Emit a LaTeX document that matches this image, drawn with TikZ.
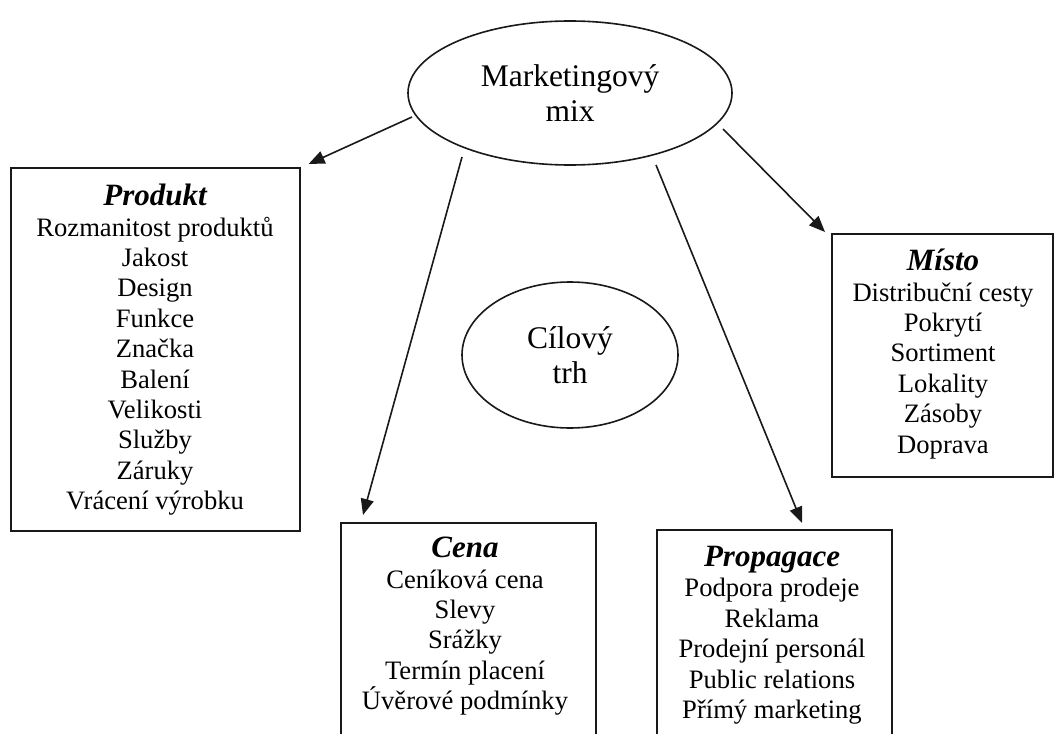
\documentclass[tikz,border=0pt]{standalone}
\usepackage{fontspec}
\setmainfont{Liberation Serif}
\usetikzlibrary{shapes.geometric,arrows.meta}
\newcommand{\boxhead}[1]{{\fontsize{31}{31}\selectfont\bfseries\itshape #1}}
\begin{document}
\begin{tikzpicture}[x=1pt,y=-1pt,
  frame/.style={draw=black!90, line width=1.6pt, inner sep=0pt, anchor=north west},
  listtext/.style={align=center, inner sep=0pt, anchor=north, font=\fontsize{26.6}{30.4}\selectfont},
  oval/.style={draw=black!90, line width=1.6pt, ellipse, inner sep=0pt, align=center, font=\fontsize{31.5}{35}\selectfont},
  arr/.style={line width=1.6pt, draw=black!90, -{Triangle[length=16pt,width=13pt]}}]
\clip (0,0) rectangle (1054,733);
\fill[white] (0,0) rectangle (1054,733);

% ellipses
\node[oval, minimum width=324pt, minimum height=144pt] (mm) at (570,93) {Marketingový\\mix};
\node[oval, minimum width=216pt, minimum height=146pt] (trh) at (570,355) {Cílový\\trh};

% frames
\node[frame, minimum width=289pt, minimum height=363pt] (produkt) at (10,167) {};
\node[frame, minimum width=255pt, minimum height=230pt] (cena) at (340,522) {};
\node[frame, minimum width=235pt, minimum height=220pt] (propagace) at (656,529) {};
\node[frame, minimum width=221pt, minimum height=243pt] (misto) at (831,233) {};

% texts
\node[listtext] (produkttext) at (155,184) {\boxhead{Produkt}\\Rozmanitost produktů\\Jakost\\Design\\Funkce\\Značka\\Balení\\Velikosti\\Služby\\Záruky\\Vrácení výrobku};
\node[listtext] (cenatext) at (465,537) {\boxhead{Cena}\\Ceníková cena\\Slevy\\Srážky\\Termín placení\\Úvěrové podmínky};
\node[listtext] (propagacetext) at (772,546) {\boxhead{Propagace}\\Podpora prodeje\\Reklama\\Prodejní personál\\Public relations\\Přímý marketing};
\node[listtext] (mistotext) at (943,249) {\boxhead{Místo}\\Distribuční cesty\\Pokrytí\\Sortiment\\Lokality\\Zásoby\\Doprava};

% arrows
\draw[arr] ([shift={(-158,24)}]mm.center) -- ([shift={(8,-3)}]produkt.north east);
\draw[arr] ([shift={(-108,64)}]mm.center) -- ([shift={(23,-7)}]cena.north west);
\draw[arr] ([shift={(86,72)}]mm.center) -- ([shift={(146,-6)}]propagace.north west);
\draw[arr] ([shift={(153,36)}]mm.center) -- ([shift={(-6,-1)}]misto.north west);
\end{tikzpicture}
\end{document}
